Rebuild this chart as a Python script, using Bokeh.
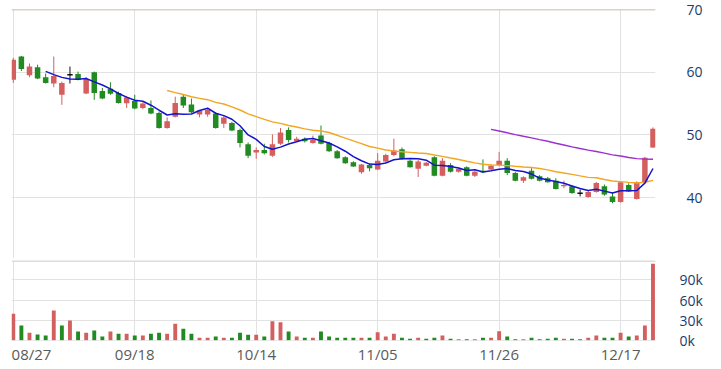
from bokeh.plotting import figure
from bokeh.layouts import column
from bokeh.models import ColumnDataSource, FixedTicker, Range1d, Span, Grid
from bokeh.embed import file_html
from bokeh.resources import INLINE
import pandas as pd

# ---------------- data ----------------
opens = [58.8, 62.5, 59.5, 60.8, 59.2, 58.2, 56.4, 59.6, 59.7, 56.6,
         60.0, 57.0, 57.35, 56.7, 55.05, 55.4, 54.3, 54.3, 53.5, 51.1,
         52.9, 56.1, 54.85, 53.25, 53.25, 53.4, 51.8, 51.9, 50.8, 48.5,
         47.2, 47.6, 46.7, 48.6, 50.8, 49.0, 49.4, 48.7, 49.9, 48.7,
         47.4, 46.45, 45.65, 44.05, 45.2, 44.5, 45.75, 46.8, 47.7, 45.9,
         44.6, 45.1, 46.45, 43.5, 45.2, 44.15, 44.85, 43.5, 44.3, 44.5,
         45.2, 45.9, 43.95, 42.7, 44.3, 43.4, 43.1, 42.7, 41.8, 41.8,
         40.7, 40.1, 40.9, 41.8, 40.2, 39.3, 42.0, 39.8, 42.45, 48.0]
highs = [62.3, 62.6, 61.4, 61.2, 59.8, 62.5, 58.5, 60.9, 60.1, 59.2,
         60.1, 57.5, 58.4, 56.9, 56.2, 56.4, 55.2, 55.5, 53.7, 52.8,
         56.1, 56.4, 55.8, 54.0, 54.2, 53.6, 53.0, 52.1, 51.0, 48.8,
         48.0, 48.6, 50.1, 51.1, 51.2, 49.7, 49.6, 49.9, 51.5, 48.9,
         47.6, 46.6, 45.8, 45.4, 45.4, 47.1, 47.0, 49.4, 48.0, 46.1,
         46.0, 45.7, 46.6, 46.3, 45.5, 44.8, 45.0, 44.3, 46.1, 45.3,
         47.3, 46.3, 44.1, 43.4, 44.7, 43.6, 43.3, 43.1, 42.7, 42.0,
         41.3, 41.2, 42.5, 42.1, 40.9, 42.6, 42.3, 42.6, 46.5, 51.2]
lows = [58.3, 60.2, 59.2, 58.9, 58.2, 57.6, 54.8, 58.2, 58.7, 56.5,
        55.6, 55.7, 56.4, 55.0, 54.3, 54.1, 54.1, 53.3, 51.0, 51.0,
        52.8, 54.3, 53.5, 52.8, 52.9, 51.0, 51.1, 50.6, 48.0, 46.3,
        46.2, 46.9, 46.5, 48.4, 48.8, 48.9, 48.8, 48.6, 48.5, 47.3,
        46.2, 45.4, 44.9, 43.8, 44.2, 44.4, 45.6, 46.6, 46.0, 44.8,
        43.3, 45.0, 43.4, 43.4, 44.0, 44.0, 43.4, 43.3, 43.9, 44.4,
        45.0, 43.6, 42.6, 42.35, 42.9, 42.6, 42.4, 41.3, 41.5, 40.6,
        40.2, 40.0, 40.8, 40.3, 39.1, 39.2, 40.9, 39.7, 42.3, 47.9]
closes = [62.0, 60.5, 60.9, 59.0, 58.3, 59.4, 58.3, 59.6, 58.8, 58.9,
          56.7, 55.8, 56.55, 55.1, 56.0, 54.2, 55.0, 53.4, 51.1, 52.2,
          55.1, 54.7, 53.6, 53.9, 54.0, 51.1, 52.8, 50.7, 48.7, 46.7,
          47.6, 47.1, 48.5, 50.4, 49.2, 49.4, 49.0, 49.2, 48.6, 47.4,
          46.3, 45.5, 44.95, 45.3, 44.7, 45.9, 46.8, 47.5, 46.2, 44.85,
          45.75, 45.55, 43.5, 45.9, 44.15, 44.6, 43.5, 44.15, 44.05, 45.1,
          45.9, 43.95, 42.7, 43.25, 43.0, 42.7, 42.45, 41.4, 42.0, 40.75,
          40.7, 40.9, 42.35, 40.5, 39.3, 42.45, 41.0, 42.45, 46.35, 51.0]
volumes = [39600, 22300, 11400, 8900, 7400, 44600, 22300, 29700, 13400, 11400,
           14900, 5900, 13400, 9900, 9900, 7400, 7400, 9900, 11400, 9900,
           24800, 17300, 9900, 4000, 4000, 5900, 4000, 4000, 11400, 8400,
           8400, 5900, 28700, 27200, 13400, 5900, 4000, 4000, 13400, 5900,
           4000, 4000, 4000, 4000, 4000, 12400, 5900, 9900, 4000, 2500,
           4000, 2500, 4000, 7400, 2500, 2000, 2000, 2000, 4000, 4000,
           13900, 5900, 2000, 2000, 4000, 2000, 2500, 4000, 2500, 2500,
           2000, 4000, 7400, 4000, 4000, 11400, 5900, 7400, 22300, 113900]
tick_index = [0, 15, 30, 45, 60, 75]
tick_labels = ["08/27", "09/18", "10/14", "11/05", "11/26", "12/17"]
price_ticks = [40, 50, 60, 70]
volume_ticks = [0, 30000, 60000, 90000]
volume_tick_labels = ["0k", "30k", "60k", "90k"]

# ---------------- styles ----------------
UP = "#d45f5f"
DOWN = "#218a21"
FLAT = "#111111"
GRID = "#e2e2e2"
YLAB = "#1c3c6c"
XLAB = "#5a5a5a"
FONT = "Open Sans"
FIRST_LABEL_SHIFT = 2.25   # first date label is pushed right so it stays inside the page

n = len(closes)
xs = list(range(n))
df = pd.DataFrame(dict(x=xs, o=opens, h=highs, l=lows, c=closes, v=volumes))
df["top"] = df[["o", "c"]].max(axis=1)
df["bottom"] = df[["o", "c"]].min(axis=1)
df["color"] = [UP if c > o else (DOWN if c < o else FLAT) for o, c in zip(opens, closes)]
vcol = []
for i in range(n):
    ref = opens[i] if i == 0 else closes[i - 1]
    vcol.append(UP if closes[i] > ref else (DOWN if closes[i] < ref else "#bbbbbb"))
df["vcolor"] = vcol
df["x0"] = df["x"] - 0.33
df["x1"] = df["x"] + 0.33
src = ColumnDataSource(df)
doji = ColumnDataSource(df[df["o"] == df["c"]])

ma5 = df["c"].rolling(5).mean()
ma20 = df["c"].rolling(20).mean()
ma60 = df["c"].rolling(60).mean()

xr = Range1d(-0.22, 79.31)


def style_axis(ax, color, size, standoff):
    ax.axis_line_color = None
    ax.major_tick_line_color = None
    ax.minor_tick_line_color = None
    ax.major_tick_out = 0
    ax.major_tick_in = 0
    ax.minor_tick_out = 0
    ax.minor_tick_in = 0
    ax.major_label_standoff = standoff
    ax.major_label_text_font = FONT
    ax.major_label_text_font_size = size
    ax.major_label_text_color = color


# ---------------- price panel ----------------
p1 = figure(frame_width=644, frame_height=249, x_range=xr, y_range=Range1d(30.3, 70),
            output_backend="svg", toolbar_location=None,
            x_axis_location=None, y_axis_location="right",
            min_border_left=11, min_border_right=58, min_border_top=9, min_border_bottom=0)
p1.outline_line_color = None
for g in p1.grid:
    g.grid_line_color = None
p1.add_layout(Grid(dimension=0, ticker=FixedTicker(ticks=tick_index), grid_line_color=GRID))
p1.add_layout(Grid(dimension=1, ticker=FixedTicker(ticks=price_ticks[:-1]), grid_line_color=GRID))

ax = p1.yaxis[0]
ax.ticker = FixedTicker(ticks=price_ticks)
style_axis(ax, YLAB, "14px", 31)

p1.add_layout(Span(location=price_ticks[-1], dimension="width", line_color="#b8a684", line_width=1.5))

p1.segment(x0="x", y0="l", x1="x", y1="h", color="color", line_width=1, source=src)
p1.vbar(x="x", width=0.68, top="top", bottom="bottom", fill_color="color", line_color=None, source=src)
p1.segment(x0="x0", y0="c", x1="x1", y1="c", color="color", line_width=1.5, source=doji)

p1.line(xs, ma60, line_color="#9b30d0", line_width=1.4)
p1.line(xs, ma20, line_color="#f2a622", line_width=1.4)
p1.line(xs, ma5, line_color="#1414cc", line_width=1.5)

# ---------------- volume panel ----------------
p2 = figure(frame_width=644, frame_height=80, x_range=xr, y_range=Range1d(0, 118800),
            output_backend="svg", toolbar_location=None,
            x_axis_location="below", y_axis_location="right",
            min_border_left=11, min_border_right=58, min_border_top=2, min_border_bottom=25)
p2.outline_line_color = None
for g in p2.grid:
    g.grid_line_color = None
p2.add_layout(Grid(dimension=0, ticker=FixedTicker(ticks=tick_index), grid_line_color=GRID))
p2.add_layout(Grid(dimension=1, ticker=FixedTicker(ticks=volume_ticks), grid_line_color=GRID))
p2.add_layout(Span(location=118800, dimension="width", line_color="#dcdcdc", line_width=3))
p2.add_layout(Span(location=0, dimension="width", line_color="#d6d6d6", line_width=1))

p2.vbar(x="x", width=0.48, top="v", bottom=0, fill_color="vcolor", line_color=None, source=src)

vax = p2.yaxis[0]
vax.ticker = FixedTicker(ticks=volume_ticks)
vax.major_label_overrides = {t: lab for t, lab in zip(volume_ticks, volume_tick_labels)}
style_axis(vax, YLAB, "14px", 24)

label_pos = [tick_index[0] + FIRST_LABEL_SHIFT] + tick_index[1:]
xax = p2.xaxis[0]
xax.ticker = FixedTicker(ticks=label_pos)
xax.major_label_overrides = {t: lab for t, lab in zip(label_pos, tick_labels)}
style_axis(xax, XLAB, "15px", 3)

layout = column(p1, p2, spacing=0)

open("out.html", "w").write(file_html(layout, INLINE))
